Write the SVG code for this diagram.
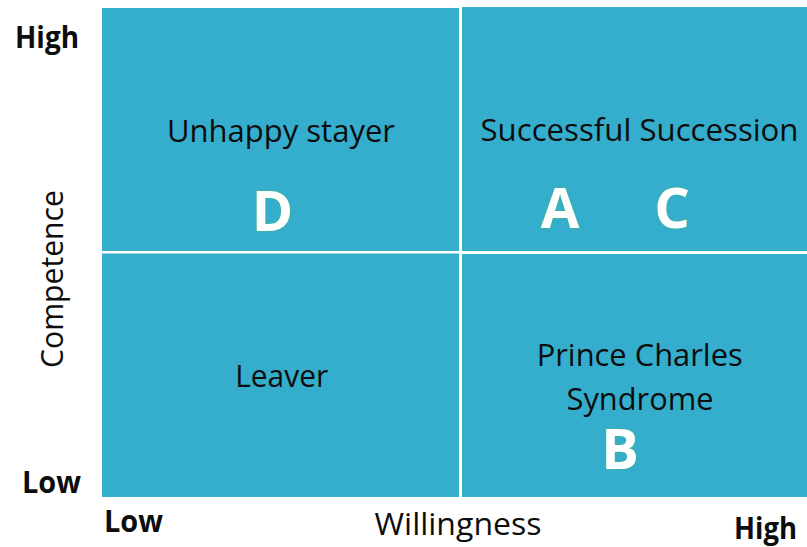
<svg xmlns="http://www.w3.org/2000/svg" width="807" height="547" viewBox="0 0 807 547">
  <style>
    .cell { fill: #35adcd; }
    .label { font-family: "Open Sans", "Noto Sans", "DejaVu Sans", sans-serif; font-size: 31px; fill: #0d0d0d; text-anchor: middle; }
    .axis { font-family: "Open Sans", "Noto Sans", "DejaVu Sans", sans-serif; font-size: 30px; fill: #0d0d0d; font-weight: bold; }
    .mark { font-family: "Open Sans", "Noto Sans", "DejaVu Sans", sans-serif; font-size: 56px; font-weight: bold; fill: #ffffff; stroke: #3fb39a; stroke-width: 1.6px; paint-order: stroke; text-anchor: middle; }
  </style>
  <rect x="0" y="0" width="807" height="547" fill="#ffffff"/>

  <!-- top-left: high competence, low willingness -->
  <g id="unhappy-stayer">
    <rect class="cell" x="102" y="8" width="357" height="243"/>
    <text class="label" x="281" y="142" textLength="228" lengthAdjust="spacingAndGlyphs">Unhappy stayer</text>
    <text class="mark" x="272.5" y="230.5">D</text>
  </g>

  <!-- top-right: high competence, high willingness -->
  <g id="successful-succession">
    <rect class="cell" x="462" y="7" width="345" height="244"/>
    <text class="label" x="639.5" y="141" textLength="318" lengthAdjust="spacingAndGlyphs">Successful Succession</text>
    <text class="mark" x="560" y="228">A</text>
    <text class="mark" x="672" y="228">C</text>
  </g>

  <!-- bottom-left: low competence, low willingness -->
  <g id="leaver">
    <rect class="cell" x="102" y="253.5" width="357" height="243.5"/>
    <text class="label" x="281.7" y="387" textLength="93" lengthAdjust="spacingAndGlyphs">Leaver</text>
  </g>

  <!-- bottom-right: low competence, high willingness -->
  <g id="prince-charles-syndrome">
    <rect class="cell" x="462" y="254" width="345" height="243"/>
    <text class="label" x="639.7" y="366" textLength="206" lengthAdjust="spacingAndGlyphs">Prince Charles</text>
    <text class="label" x="640" y="409.5" textLength="147" lengthAdjust="spacingAndGlyphs">Syndrome</text>
    <text class="mark" x="620" y="468.5">B</text>
  </g>

  <!-- axes -->
  <g id="axes">
    <text class="axis" x="15" y="48" textLength="64" lengthAdjust="spacingAndGlyphs">High</text>
    <text class="axis" x="22" y="493" textLength="59" lengthAdjust="spacingAndGlyphs">Low</text>
    <text class="axis" x="104" y="531.5" textLength="59" lengthAdjust="spacingAndGlyphs">Low</text>
    <text class="axis" x="734" y="539" textLength="63" lengthAdjust="spacingAndGlyphs">High</text>
    <text class="label" x="458" y="535" textLength="167" lengthAdjust="spacingAndGlyphs">Willingness</text>
    <text class="label" transform="translate(63 279) rotate(-90)" x="0" y="0" textLength="178" lengthAdjust="spacingAndGlyphs">Competence</text>
  </g>

  <g id="connectors"/>
</svg>
